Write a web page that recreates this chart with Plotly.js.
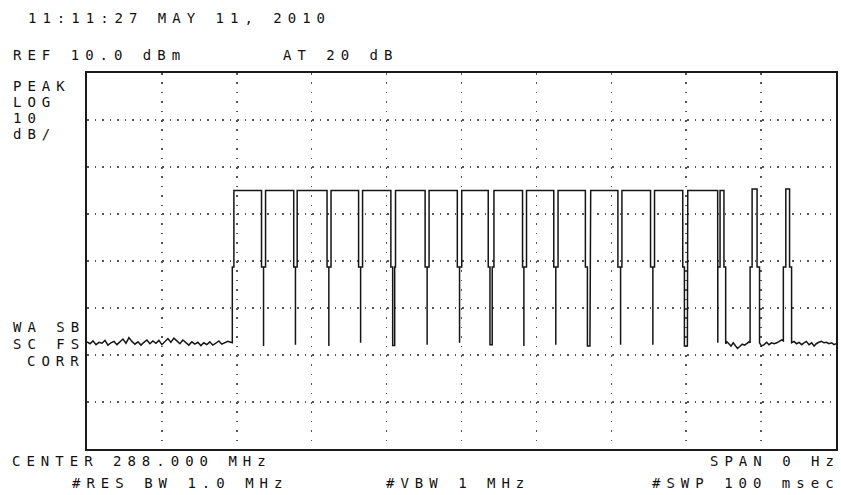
<!DOCTYPE html>
<html>
<head>
<meta charset="utf-8">
<script src="https://cdn.plot.ly/plotly-3.0.1.min.js"></script>
<style>
  html, body { margin: 0; padding: 0; background: #fff; }
  #chart { width: 841px; height: 495px; }
  .annotation-text { letter-spacing: 6px; }
</style>
</head>
<body>
<div id="chart"></div>
<script>
// ---------- data (time in ms, level in dBm) ----------
const noiseLeadMs = [0.0, 0.4, 0.8, 1.2, 1.6, 2.0, 2.4, 2.8, 3.2, 3.6, 4.0, 4.4, 4.8, 5.2, 5.6, 6.0, 6.4, 6.8, 7.2, 7.6,
  8.0, 8.4, 8.8, 9.2, 9.6, 10.0, 10.4, 10.8, 11.2, 11.6, 12.0, 12.4, 12.8, 13.2, 13.6, 14.0, 14.4, 14.8, 15.2, 15.6,
  16.0, 16.4, 16.8, 17.2, 17.6, 18.0, 18.4, 18.8, 19.2, 19.40];
const noiseLeadDbm = [-47.2, -47.6, -47.0, -47.8, -47.3, -47.5, -46.9, -47.9, -47.4, -47.1, -47.8, -47.2, -46.6, -47.5, -46.3, -47.1, -47.7, -47.2, -47.9, -47.3,
  -46.8, -47.6, -47.0, -47.5, -46.9, -47.8, -47.2, -46.5, -47.3, -46.4, -47.0, -47.6, -46.8, -47.4, -47.9, -47.2, -47.7, -47.3, -48.0, -47.4,
  -47.8, -47.2, -47.9, -47.5, -47.0, -47.7, -47.4, -47.1, -47.3, -47.4];

const pulseTopDbm = -15.0;
const shoulderDbm = -31.3;
const burstRiseMs = [19.40, 19.61];          // floor -> shoulder, shoulder -> top

const dipStartMs  = [23.30, 27.60, 32.05, 36.26, 40.57, 45.14, 49.44, 53.57, 58.15, 62.32, 66.54, 70.88, 75.24, 79.54, 84.20];
const dipDownMs   = [23.57, 27.83, 32.29, 36.53, 40.81, 45.41, 49.74, 53.80, 58.33, 62.59, 66.81, 71.24, 75.55, 79.76, 84.22];
const dipUpMs     = [23.57, 27.83, 32.29, 36.53, 41.08, 45.41, 49.74, 54.10, 58.33, 62.59, 67.15, 71.24, 75.55, 80.16, 84.22];
const dipEndMs    = [23.84, 28.06, 32.58, 36.79, 41.19, 45.67, 50.03, 54.33, 58.68, 62.89, 67.25, 71.42, 75.77, 80.21, 84.52];
const dipFloorDbm = [-48.1, -47.8, -48.1, -47.4, -48.0, -47.8, -47.4, -47.8, -48.1, -47.8, -48.1, -47.8, -47.8, -48.1, -47.4];

const burstFallMs = [85.04, 85.27];          // top -> shoulder, shoulder -> floor

const noiseGap1Ms  = [85.27, 85.45, 85.70, 85.98, 86.28, 86.55, 86.85, 87.15, 87.48, 87.80, 88.10, 88.40, 88.53];
const noiseGap1Dbm = [-47.6, -47.2, -47.6, -48.1, -47.4, -47.9, -48.6, -48.2, -47.7, -47.9, -47.5, -47.2, -47.4];
const noiseGap2Ms  = [89.79, 90.05, 90.40, 90.75, 91.05, 91.40, 91.75, 92.10, 92.40, 92.75, 92.97];
const noiseGap2Dbm = [-47.4, -48.1, -47.8, -47.3, -47.8, -47.4, -47.6, -47.4, -47.2, -46.8, -47.0];
const noiseTailMs  = [94.07, 94.41, 94.72, 95.07, 95.43, 95.74, 96.04, 96.40, 96.76, 97.07, 97.37, 97.71, 98.07, 98.40, 98.71, 99.07, 99.42, 99.73, 100];
const noiseTailDbm = [-47.4, -47.1, -47.6, -47.3, -47.8, -47.4, -47.1, -47.8, -47.4, -48.1, -47.6, -47.3, -47.1, -47.4, -47.3, -47.6, -47.4, -47.8, -47.6];

const shortRiseMs     = [88.53, 92.97];
const shortTopStartMs = [88.80, 93.30];
const shortTopEndMs   = [89.46, 93.80];
const shortFallMs     = [89.79, 94.07];
const shortTopDbm     = [-14.7, -14.7];

const xRangeMs = [0, 100];
const yRangeDbm = [-70, 10];

const headerLabels = ["11:11:27 MAY 11, 2010", "REF 10.0 dBm", "AT 20 dB"];
const sideLabels = ["PEAK", "LOG", "10", "dB/", "WA SB", "SC FS", "CORR"];
const footerLabels = ["CENTER 288.000 MHz", "SPAN 0 Hz", "#RES BW 1.0 MHz", "#VBW 1 MHz", "#SWP 100 msec"];

// ---------- assemble the sweep from the read values ----------
const tx = [], ty = [];
function pt(a, b) { tx.push(a); ty.push(b); }
noiseLeadMs.forEach((t, i) => pt(t, noiseLeadDbm[i]));
pt(burstRiseMs[0], shoulderDbm); pt(burstRiseMs[1], shoulderDbm); pt(burstRiseMs[1], pulseTopDbm);
dipStartMs.forEach((s, i) => {
  pt(s, pulseTopDbm); pt(s, shoulderDbm);
  pt(dipDownMs[i], shoulderDbm); pt(dipDownMs[i], dipFloorDbm[i]);
  pt(dipUpMs[i], dipFloorDbm[i]); pt(dipUpMs[i], shoulderDbm);
  pt(dipEndMs[i], shoulderDbm); pt(dipEndMs[i], pulseTopDbm);
});
pt(burstFallMs[0], pulseTopDbm); pt(burstFallMs[0], shoulderDbm); pt(burstFallMs[1], shoulderDbm);
const gaps = [[noiseGap1Ms, noiseGap1Dbm], [noiseGap2Ms, noiseGap2Dbm], [noiseTailMs, noiseTailDbm]];
gaps.forEach((g, j) => {
  g[0].forEach((t, i) => pt(t, g[1][i]));
  if (j < shortRiseMs.length) {
    pt(shortRiseMs[j], shoulderDbm); pt(shortTopStartMs[j], shoulderDbm); pt(shortTopStartMs[j], shortTopDbm[j]);
    pt(shortTopEndMs[j], shortTopDbm[j]); pt(shortTopEndMs[j], shoulderDbm); pt(shortFallMs[j], shoulderDbm);
  }
});

// ---------- layout ----------
const L = 87, R = 836, T = 73, B = 449;
const W = 841, H = 495;
const px = x => (x - L) / (R - L);
const py = y => (B - y) / (B - T);
const font = { family: "DejaVu Sans Mono, Liberation Mono, monospace", size: 14, color: "#111" };
function lab(text, x, y) {
  return { text: text, xref: "paper", yref: "paper", x: px(x), y: py(y), xanchor: "left", yanchor: "middle",
           align: "left", showarrow: false, font: font, borderpad: 0 };
}
const annotations = [
  lab(headerLabels[0], 27, 17.5),
  lab(headerLabels[1], 12, 55),
  lab(headerLabels[2], 282, 55),
  lab(sideLabels[0], 12, 86),
  lab(sideLabels[1], 12, 102),
  lab(sideLabels[2], 12, 118),
  lab(sideLabels[3], 12, 134),
  lab(sideLabels[4], 12, 327),
  lab(sideLabels[5], 12, 344),
  lab(sideLabels[6], 26, 361),
  lab(footerLabels[0], 11, 461),
  lab(footerLabels[1], 709, 461),
  lab(footerLabels[2], 71, 483),
  lab(footerLabels[3], 385, 483),
  lab(footerLabels[4], 651, 483)
];

const trace = { x: tx, y: ty, type: "scatter", mode: "lines", hoverinfo: "skip",
  line: { color: "#151515", width: 1.5 } };

const layout = {
  width: W, height: H,
  margin: { l: L, r: W - R, t: T, b: H - B, pad: 0 },
  paper_bgcolor: "#fff", plot_bgcolor: "#fff",
  showlegend: false,
  xaxis: { range: xRangeMs, dtick: 10, tick0: 0, showticklabels: false, ticks: "", zeroline: false,
           showgrid: true, gridcolor: "#555", gridwidth: 1.5, griddash: "1.5px,7.9px",
           showline: true, mirror: true, linecolor: "#1a1a1a", linewidth: 2, fixedrange: true },
  yaxis: { range: yRangeDbm, dtick: 10, tick0: 0, showticklabels: false, ticks: "", zeroline: false,
           showgrid: true, gridcolor: "#555", gridwidth: 1.5, griddash: "1.5px,6px",
           showline: true, mirror: true, linecolor: "#1a1a1a", linewidth: 2, fixedrange: true },
  annotations: annotations
};

Plotly.newPlot("chart", [trace], layout, { staticPlot: true, displayModeBar: false });
</script>
</body>
</html>
